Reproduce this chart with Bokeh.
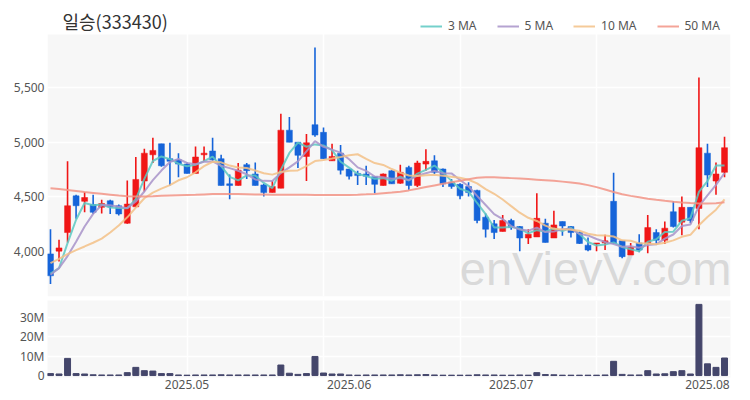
import pandas as pd
from bokeh.plotting import figure
from bokeh.layouts import column
from bokeh.models import (ColumnDataSource, Range1d, FixedTicker, NumeralTickFormatter,
                          CustomJSTickFormatter, Label, Legend, LegendItem)
from bokeh.embed import file_html
from bokeh.resources import INLINE

title_text = "일승(333430)"
watermark_text = "enVievV.com"

opens = [3980, 4005, 4175, 4510, 4460, 4430, 4405, 4465, 4420, 4260,
         4410, 4645, 4885, 4985, 4850, 4840, 4800, 4715, 4885, 4920,
         4850, 4620, 4605, 4795, 4710, 4610, 4540, 4580, 5110, 5000,
         4870, 5160, 5090, 4830, 4900, 4755, 4715, 4710, 4685, 4605,
         4740, 4625, 4770, 4605, 4800, 4830, 4755, 4635, 4615, 4595,
         4560, 4315, 4255, 4185, 4285, 4230, 4125, 4135, 4260, 4125,
         4275, 4230, 4175, 4060, 4070, 4080, 4460, 4100, 3970, 4080,
         4075, 4175, 4105, 4365, 4270, 4405, 4395, 4900, 4645, 4725]
highs = [4205, 4110, 4825, 4520, 4545, 4520, 4475, 4475, 4430, 4650,
         4865, 4940, 5040, 4985, 4995, 4900, 4815, 4960, 4960, 5040,
         4885, 4705, 4810, 4810, 4815, 4620, 4645, 5260, 5230, 5000,
         5075, 5865, 5135, 4985, 4975, 4755, 4740, 4785, 4685, 4715,
         4745, 4795, 4785, 4830, 4935, 4880, 4760, 4665, 4625, 4635,
         4565, 4350, 4290, 4335, 4300, 4235, 4205, 4535, 4300, 4375,
         4275, 4235, 4185, 4130, 4080, 4155, 4720, 4100, 4080, 4160,
         4335, 4205, 4275, 4460, 4505, 4405, 5590, 4985, 4815, 5050]
lows = [3705, 3910, 4085, 4300, 4360, 4345, 4350, 4345, 4330, 4255,
        4405, 4550, 4810, 4775, 4605, 4680, 4715, 4715, 4825, 4830,
        4605, 4480, 4605, 4665, 4605, 4505, 4540, 4580, 5000, 4765,
        4645, 5050, 4850, 4830, 4705, 4660, 4610, 4610, 4535, 4605,
        4620, 4620, 4565, 4590, 4740, 4710, 4590, 4575, 4480, 4505,
        4260, 4130, 4115, 4185, 4200, 4005, 4070, 4135, 4085, 4125,
        4145, 4130, 4070, 4005, 4005, 4015, 4075, 3940, 3970, 3995,
        3985, 4075, 4070, 4220, 4150, 4260, 4205, 4590, 4520, 4680]
closes = [3780, 4035, 4420, 4420, 4495, 4360, 4440, 4410, 4345, 4435,
          4660, 4900, 4925, 4785, 4825, 4800, 4715, 4865, 4900, 4840,
          4605, 4605, 4745, 4740, 4605, 4540, 4595, 5110, 5000, 4880,
          4995, 5065, 4850, 4870, 4745, 4690, 4695, 4690, 4615, 4710,
          4620, 4725, 4605, 4810, 4825, 4725, 4620, 4595, 4510, 4540,
          4285, 4205, 4175, 4285, 4220, 4125, 4160, 4305, 4085, 4245,
          4235, 4175, 4075, 4015, 4080, 4100, 4075, 3955, 4040, 4015,
          4220, 4105, 4215, 4230, 4405, 4285, 4950, 4700, 4710, 4950]
volumes = [1000000, 800000, 8800000, 1000000, 800000, 400000, 300000, 300000, 300000, 1500000,
           4200000, 2500000, 2300000, 1000000, 1000000, 300000, 200000, 300000, 300000, 300000,
           400000, 300000, 300000, 300000, 300000, 300000, 300000, 5400000, 1200000, 600000,
           1000000, 9800000, 1300000, 800000, 800000, 300000, 200000, 300000, 300000, 300000,
           300000, 400000, 300000, 400000, 500000, 300000, 200000, 200000, 200000, 200000,
           400000, 300000, 300000, 200000, 200000, 300000, 200000, 1500000, 500000, 400000,
           200000, 200000, 200000, 200000, 200000, 300000, 7300000, 600000, 300000, 300000,
           2500000, 800000, 900000, 2000000, 2500000, 800000, 36500000, 6000000, 4200000, 9000000]

# moving-average values at the start of the window (they use earlier days)
ma3_head = [3800, 3850]
ma5_head = [3790, 3850, 3960, 4090]
ma10_head = [3895, 3935, 3978, 4015, 4048, 4082, 4120, 4176, 4240]
ma50 = [4580, 4572, 4563, 4554, 4545, 4537, 4529, 4521, 4513, 4507,
        4505, 4505, 4507, 4510, 4513, 4516, 4518, 4520, 4523, 4526,
        4527, 4527, 4526, 4525, 4523, 4522, 4521, 4520, 4520, 4520,
        4520, 4519, 4518, 4518, 4518, 4519, 4521, 4524, 4528, 4534,
        4540, 4548, 4560, 4575, 4590, 4605, 4620, 4635, 4648, 4662,
        4675, 4680, 4680, 4676, 4672, 4668, 4663, 4658, 4653, 4647,
        4640, 4632, 4622, 4608, 4590, 4568, 4546, 4525, 4510, 4497,
        4484, 4474, 4465, 4457, 4450, 4445, 4441, 4440, 4443, 4451]

ma_labels = ["3 MA", "5 MA", "10 MA", "50 MA"]
month_tick_idx = [16, 35, 54, 77]
month_labels = ["2025.05", "2025.06", "2025.07", "2025.08"]
grid_idx = [16, 32, 48, 64]
price_ticks = [4000, 4500, 5000, 5500]
volume_ticks = [0, 10000000, 20000000, 30000000]

UP = "#f01616"
DOWN = "#1664d9"
VOL = "#44466b"
MA_COLORS = ["#5cc8c2", "#a893c9", "#f3c187", "#f29486"]
FONT = "Noto Sans"
LABEL_COLOR = "#555555"
PANEL_BG = "#f7f7f7"

n = len(closes)
idx = list(range(n))
c = pd.Series(closes, dtype=float)


def moving_average(window, head):
    m = c.rolling(window).mean()
    m.iloc[:len(head)] = head
    return m.tolist()


ma3 = moving_average(3, ma3_head)
ma5 = moving_average(5, ma5_head)
ma10 = moving_average(10, ma10_head)

colors = [UP if cl >= op else DOWN for op, cl in zip(opens, closes)]
src = ColumnDataSource(dict(
    x=idx, open=opens, high=highs, low=lows, close=closes,
    top=[max(o, cl) for o, cl in zip(opens, closes)],
    bottom=[min(o, cl) for o, cl in zip(opens, closes)],
    color=colors, volume=volumes,
    ma3=ma3, ma5=ma5, ma10=ma10, ma50=ma50,
))

x_range = Range1d(-0.35, 79.7)
y_lo, y_panel_top, y_hi = 3591, 5983, 6221
FRAME_H = 288

p = figure(width=742, height=300, x_range=x_range, y_range=Range1d(y_lo, y_hi),
           output_backend="svg", toolbar_location=None, x_axis_location=None,
           min_border_left=47, min_border_right=12, min_border_top=8, min_border_bottom=4,
           background_fill_color="white", border_fill_color="white", outline_line_color=None)

# grey panel area (frame also holds title and legend above it)
p.quad(left=[x_range.start], right=[x_range.end], bottom=[y_lo], top=[y_panel_top],
       fill_color=PANEL_BG, line_color=None, level="image")

p.ygrid.ticker = FixedTicker(ticks=price_ticks)
p.ygrid.grid_line_color = "white"
p.ygrid.grid_line_width = 1.5
p.xgrid.ticker = FixedTicker(ticks=grid_idx)
p.xgrid.grid_line_color = "white"
p.xgrid.grid_line_width = 1.5

p.yaxis.ticker = FixedTicker(ticks=price_ticks)
p.yaxis.formatter = NumeralTickFormatter(format="0,0")
p.yaxis.axis_line_color = None
p.yaxis.major_tick_line_color = None
p.yaxis.minor_tick_line_color = None
p.yaxis.major_tick_out = 0
p.yaxis.major_label_standoff = 3
p.yaxis.major_label_text_font = FONT
p.yaxis.major_label_text_font_size = "12px"
p.yaxis.major_label_text_color = LABEL_COLOR

wm = Label(x=684, y=2, x_units="screen", y_units="screen", text=watermark_text,
           text_align="right", text_baseline="bottom", text_font="Liberation Sans",
           text_font_size="47px", text_color="#d9d9d9", level="underlay")
p.add_layout(wm)

p.segment(x0="x", y0="low", x1="x", y1="high", color="color", line_width=1.6, source=src)
p.vbar(x="x", width=0.7, top="top", bottom="bottom", fill_color="color",
       line_color="color", line_width=0.5, source=src)

ma_renderers = []
for col, colr in zip(["ma3", "ma5", "ma10", "ma50"], MA_COLORS):
    r = p.line("x", col, source=src, line_color=colr, line_width=2, line_alpha=0.85)
    ma_renderers.append(r)

legend = Legend(items=[LegendItem(label=lab, renderers=[r]) for lab, r in zip(ma_labels, ma_renderers)],
                orientation="horizontal", location=(373, FRAME_H - 26),
                border_line_color=None, background_fill_alpha=0,
                label_text_font=FONT, label_text_font_size="12px", label_text_color=LABEL_COLOR,
                glyph_width=22, glyph_height=12, label_standoff=6, spacing=20,
                padding=0, margin=0)
p.add_layout(legend)

title = Label(x=15, y=FRAME_H - 12, x_units="screen", y_units="screen", text=title_text,
              text_font="Noto Sans CJK KR", text_font_size="18px", text_color="#333333",
              text_baseline="middle")
p.add_layout(title)

v = figure(width=742, height=98, x_range=x_range, y_range=Range1d(-1000000, 38500000),
           output_backend="svg", toolbar_location=None,
           min_border_left=47, min_border_right=12, min_border_top=0, min_border_bottom=21,
           background_fill_color=PANEL_BG, border_fill_color="white", outline_line_color=None)
v.vbar(x="x", width=0.7, top="volume", bottom=0, fill_color=VOL, line_color=VOL, source=src)

v.ygrid.ticker = FixedTicker(ticks=volume_ticks)
v.ygrid.grid_line_color = "white"
v.ygrid.grid_line_width = 1.5
v.xgrid.ticker = FixedTicker(ticks=grid_idx)
v.xgrid.grid_line_color = "white"
v.xgrid.grid_line_width = 1.5

v.yaxis.ticker = FixedTicker(ticks=volume_ticks)
v.yaxis.formatter = CustomJSTickFormatter(code="return tick == 0 ? '0' : (tick / 1e6).toFixed(0) + 'M';")
v.xaxis.ticker = FixedTicker(ticks=month_tick_idx)
v.xaxis.major_label_overrides = {i: lab for i, lab in zip(month_tick_idx, month_labels)}
for ax in (v.xaxis, v.yaxis):
    ax.axis_line_color = None
    ax.major_tick_line_color = None
    ax.minor_tick_line_color = None
    ax.major_tick_out = 0
    ax.major_label_text_font = FONT
    ax.major_label_text_font_size = "12px"
    ax.major_label_text_color = LABEL_COLOR
v.yaxis.major_label_standoff = 3
v.xaxis.major_label_standoff = 2

layout = column(p, v, spacing=0)
open("out.html", "w").write(file_html(layout, INLINE, title="일승(333430)"))
